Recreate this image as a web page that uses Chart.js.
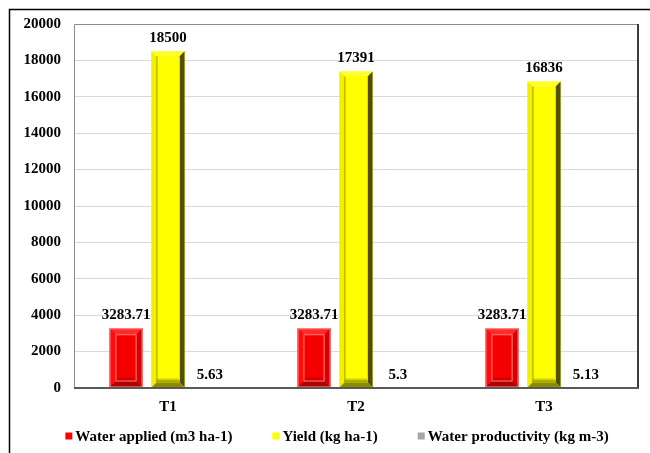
<!DOCTYPE html>
<html>
<head>
<meta charset="utf-8">
<script src="https://cdn.jsdelivr.net/npm/chart.js@4/dist/chart.umd.min.js"></script>
<style>
  html, body { margin: 0; padding: 0; background: #fff; }
  #wrap { width: 650px; height: 453px; position: relative; }
</style>
</head>
<body>
<div id="wrap"><canvas id="c" width="650" height="453"></canvas></div>
<script>
const treatments = ['T1', 'T2', 'T3'];
const waterApplied = [3283.71, 3283.71, 3283.71];
const yieldKg = [18500, 17391, 16836];
const waterProductivity = [5.63, 5.3, 5.13];
const yTicks = [0, 2000, 4000, 6000, 8000, 10000, 12000, 14000, 16000, 18000, 20000];

const FONT = '"Liberation Serif", "Times New Roman", serif';

// Bevel palettes for the framed bar look
const bevels = [
  { top: '#ff2a2a', left: '#ff0d0d', right: '#d60000', bottom: '#b00000', face: '#f50000', line: '#ff8080', lineAll: true, k: 6 },
  { top: '#ffff30', left: '#f0f000', right: '#505000', bottom: '#8a8a00', face: '#ffff00', line: '#9a9a00', lineAll: false, k: 5 },
  null
];

const framePlugin = {
  id: 'frame',
  beforeDraw(chart) {
    const ctx = chart.ctx;
    ctx.save();
    ctx.fillStyle = '#fff';
    ctx.fillRect(0, 0, chart.width, chart.height);
    ctx.strokeStyle = '#000';
    ctx.lineWidth = 1.5;
    ctx.beginPath();
    ctx.moveTo(9.5, chart.height + 2);
    ctx.lineTo(9.5, 9.5);
    ctx.lineTo(chart.width + 2, 9.5);
    ctx.stroke();
    ctx.restore();
  },
  afterDatasetsDraw(chart) {
    const ctx = chart.ctx;
    const a = chart.chartArea;
    ctx.save();
    // bevel shading on the bars
    chart.data.datasets.forEach((ds, di) => {
      const pal = bevels[di];
      if (!pal) return;
      chart.getDatasetMeta(di).data.forEach(bar => {
        const l = bar.x - bar.width / 2, r = bar.x + bar.width / 2;
        const t = bar.y, b = bar.base;
        const k = pal.k;
        const il = l + k, ir = r - k, it = t + k, ib = b - k;
        const poly = (pts, c) => {
          ctx.fillStyle = c;
          ctx.beginPath();
          ctx.moveTo(pts[0][0], pts[0][1]);
          for (let i = 1; i < pts.length; i++) ctx.lineTo(pts[i][0], pts[i][1]);
          ctx.closePath();
          ctx.fill();
        };
        poly([[l, t], [r, t], [ir, it], [il, it]], pal.top);
        poly([[l, t], [il, it], [il, ib], [l, b]], pal.left);
        poly([[r, t], [r, b], [ir, ib], [ir, it]], pal.right);
        poly([[l, b], [il, ib], [ir, ib], [r, b]], pal.bottom);
        const g = ctx.createLinearGradient(0, ib - 5, 0, ib);
        g.addColorStop(0, pal.face);
        g.addColorStop(1, pal.bottom);
        ctx.fillStyle = pal.face;
        ctx.fillRect(il, it, ir - il, ib - it);
        ctx.fillStyle = g;
        ctx.fillRect(il, ib - 5, ir - il, 5);
        ctx.strokeStyle = pal.line;
        ctx.lineWidth = 1;
        if (pal.lineAll) {
          ctx.strokeRect(il + 0.5, it + 0.5, ir - il - 1, ib - it - 1);
          ctx.strokeStyle = '#ff9a9a';
          ctx.strokeRect(l + 0.5, t + 0.5, r - l - 1, b - t - 1);
        } else {
          ctx.beginPath();
          ctx.moveTo(il + 0.5, it);
          ctx.lineTo(il + 0.5, ib);
          ctx.stroke();
        }
      });
    });
    // plot area box
    ctx.lineWidth = 1;
    ctx.strokeStyle = '#8c8c8c';
    ctx.beginPath();
    ctx.moveTo(a.left + 0.5, a.bottom);
    ctx.lineTo(a.left + 0.5, a.top + 0.5);
    ctx.lineTo(a.right, a.top + 0.5);
    ctx.stroke();
    ctx.lineWidth = 2;
    ctx.strokeStyle = '#3c3c3c';
    ctx.beginPath();
    ctx.moveTo(a.right, a.top);
    ctx.lineTo(a.right, a.bottom);
    ctx.stroke();
    ctx.strokeStyle = '#595959';
    ctx.beginPath();
    ctx.moveTo(a.left, a.bottom);
    ctx.lineTo(a.right + 1, a.bottom);
    ctx.stroke();
    // value labels
    ctx.fillStyle = '#000';
    ctx.font = 'bold 15px ' + FONT;
    ctx.textAlign = 'center';
    ctx.textBaseline = 'middle';
    chart.data.datasets.forEach((ds, di) => {
      chart.getDatasetMeta(di).data.forEach((bar, i) => {
        ctx.fillText(String(ds.data[i]), bar.x, bar.y - 13);
      });
    });
    // legend row
    ctx.font = 'bold 15px ' + FONT;
    ctx.textAlign = 'left';
    const box = 7, boxGap = 3, itemGap = 40, ly = 436;
    const items = chart.data.datasets.map(ds => ({
      text: ds.label, color: ds.backgroundColor, w: ctx.measureText(ds.label).width
    }));
    const total = items.reduce((s, it) => s + box + boxGap + it.w, 0) + itemGap * (items.length - 1);
    let x = 337 - total / 2;
    items.forEach(it => {
      ctx.fillStyle = it.color;
      ctx.fillRect(x, ly - box / 2, box, box);
      ctx.fillStyle = '#000';
      ctx.fillText(it.text, x + box + boxGap, ly + 1);
      x += box + boxGap + it.w + itemGap;
    });
    ctx.restore();
  }
};

new Chart(document.getElementById('c'), {
  type: 'bar',
  data: {
    labels: treatments,
    datasets: [
      { label: 'Water applied (m3 ha-1)', data: waterApplied, backgroundColor: '#ff0000' },
      { label: 'Yield (kg ha-1)', data: yieldKg, backgroundColor: '#ffff00' },
      { label: 'Water productivity (kg m-3)', data: waterProductivity, backgroundColor: '#a6a6a6' }
    ]
  },
  options: {
    responsive: false,
    animation: false,
    events: [],
    layout: { padding: { left: 0, right: 12, top: 24, bottom: 35 } },
    datasets: { bar: { categoryPercentage: 0.67, barPercentage: 0.79 } },
    plugins: {
      tooltip: { enabled: false },
      legend: { display: false }
    },
    scales: {
      x: {
        grid: { display: false, drawTicks: false },
        border: { display: false },
        ticks: { color: '#000', font: { family: FONT, size: 15, weight: 'bold' }, padding: 10 },
        afterFit(s) { s.height = 30; }
      },
      y: {
        min: 0,
        max: 20000,
        afterBuildTicks(s) { s.ticks = yTicks.map(v => ({ value: v })); },
        grid: { color: '#d9d9d9', drawTicks: false },
        border: { display: false },
        ticks: {
          color: '#000',
          font: { family: FONT, size: 15, weight: 'bold' },
          padding: 13,
          callback: v => String(v)
        },
        afterFit(s) { s.width = 74; }
      }
    }
  },
  plugins: [framePlugin]
});
</script>
</body>
</html>
